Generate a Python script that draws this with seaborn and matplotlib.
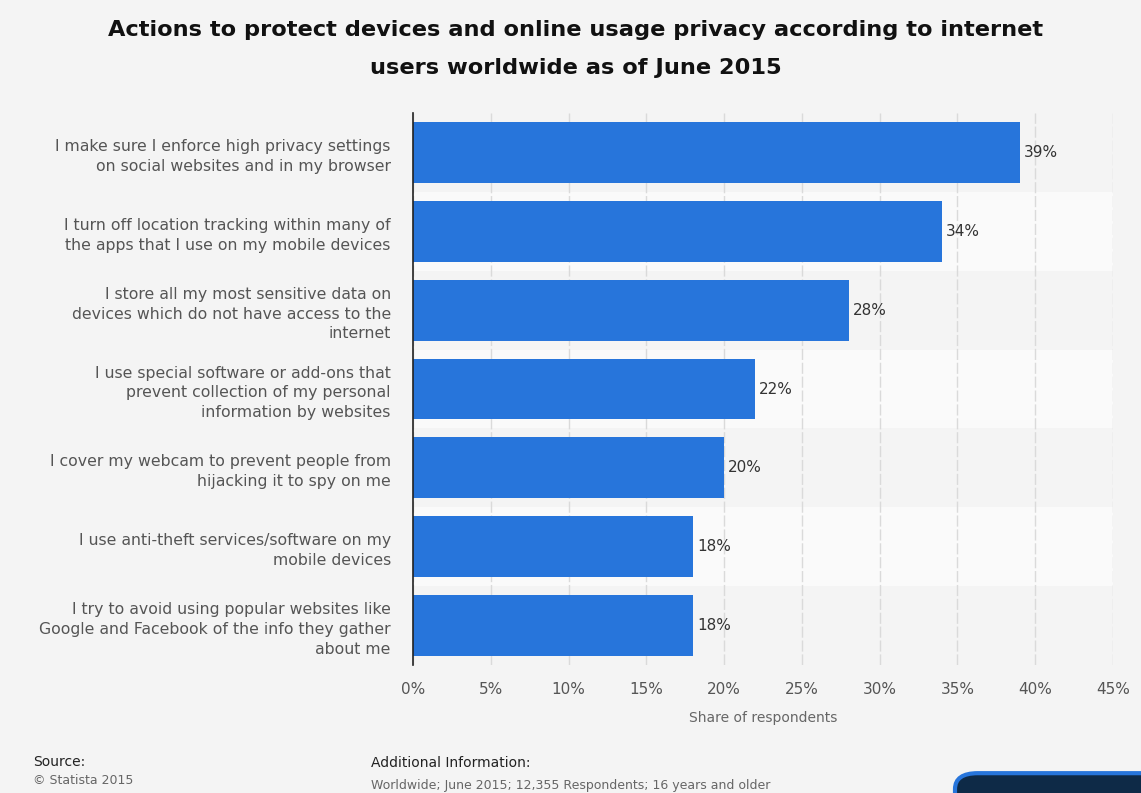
import matplotlib
matplotlib.use("Agg")
import matplotlib.pyplot as plt
import seaborn as sns
import pandas as pd
from matplotlib.patches import FancyBboxPatch

categories = [
    "I make sure I enforce high privacy settings\non social websites and in my browser",
    "I turn off location tracking within many of\nthe apps that I use on my mobile devices",
    "I store all my most sensitive data on\ndevices which do not have access to the\ninternet",
    "I use special software or add-ons that\nprevent collection of my personal\ninformation by websites",
    "I cover my webcam to prevent people from\nhijacking it to spy on me",
    "I use anti-theft services/software on my\nmobile devices",
    "I try to avoid using popular websites like\nGoogle and Facebook of the info they gather\nabout me",
]
values = [39, 34, 28, 22, 20, 18, 18]
tick_values = [0, 5, 10, 15, 20, 25, 30, 35, 40, 45]
tick_labels = [f"{v}%" for v in tick_values]
title_lines = [
    "Actions to protect devices and online usage privacy according to internet",
    "users worldwide as of June 2015",
]

df = pd.DataFrame({"action": categories, "share": values})

sns.set_theme(style="white")
plt.rcParams["font.family"] = ["DejaVu Sans"]

BG = "#f4f4f4"
fig = plt.figure(figsize=(11.41, 7.93), dpi=100, facecolor=BG)
ax = fig.add_axes([413 / 1141, 1 - 665 / 793, (1113 - 413) / 1141, (665 - 113) / 793])
ax.set_facecolor(BG)

for i in range(len(categories)):
    if i % 2 == 1:
        ax.axhspan(i - 0.5, i + 0.5, color="#fafafa", zorder=0, lw=0)

sns.barplot(data=df, x="share", y="action", color="#2775db", width=0.77,
            saturation=1, ax=ax, zorder=3, orient="h", edgecolor="none")

ax.set_xlim(0, 45)
ax.set_ylim(len(categories) - 0.5, -0.5)
ax.set_xticks(tick_values)
ax.set_xticklabels(tick_labels, fontsize=11, color="#555555")
ax.tick_params(axis="x", length=0, pad=12)
ax.tick_params(axis="y", length=0, pad=16)
for lbl in ax.get_yticklabels():
    lbl.set_fontsize(11.3)
    lbl.set_color("#555555")
    lbl.set_multialignment("right")
    lbl.set_linespacing(1.4)

ax.xaxis.grid(True, color="#dadada", linestyle=(0, (8, 2)), linewidth=1, zorder=1)
ax.set_axisbelow(True)
for s in ["top", "right", "bottom"]:
    ax.spines[s].set_visible(False)
ax.spines["left"].set_color("#222222")
ax.spines["left"].set_linewidth(1.2)
ax.spines["left"].set_zorder(5)

ax.set_xlabel("Share of respondents", fontsize=10, color="#666666", labelpad=10)
ax.set_ylabel("")

for i, v in enumerate(values):
    ax.text(v + 0.25, i, f"{v}%", va="center", ha="left", fontsize=11, color="#333333", zorder=6)

for y_px, line in zip([30, 68], title_lines):
    fig.text(576 / 1141, 1 - y_px / 793, line, ha="center", va="center",
             fontsize=16.2, fontweight="bold", color="#111111")

fig.text(33 / 1141, 1 - 762 / 793, "Source:", fontsize=10, color="#222222", va="center")
fig.text(33 / 1141, 1 - 781 / 793, "© Statista 2015", fontsize=9, color="#666666", va="center")
fig.text(371 / 1141, 1 - 763 / 793, "Additional Information:", fontsize=10, color="#222222", va="center")
fig.text(371 / 1141, 1 - 785 / 793, "Worldwide; June 2015; 12,355 Respondents; 16 years and older",
         fontsize=9, color="#666666", va="center")

logo = FancyBboxPatch((955 / 1141, -0.02), 0.2, 0.045,
                      boxstyle="round,pad=0,rounding_size=0.02",
                      transform=fig.transFigure, facecolor="#0e2a47",
                      edgecolor="#2775db", linewidth=3, clip_on=False)
fig.patches.append(logo)

fig.savefig("out.png", dpi=100, facecolor=BG)
